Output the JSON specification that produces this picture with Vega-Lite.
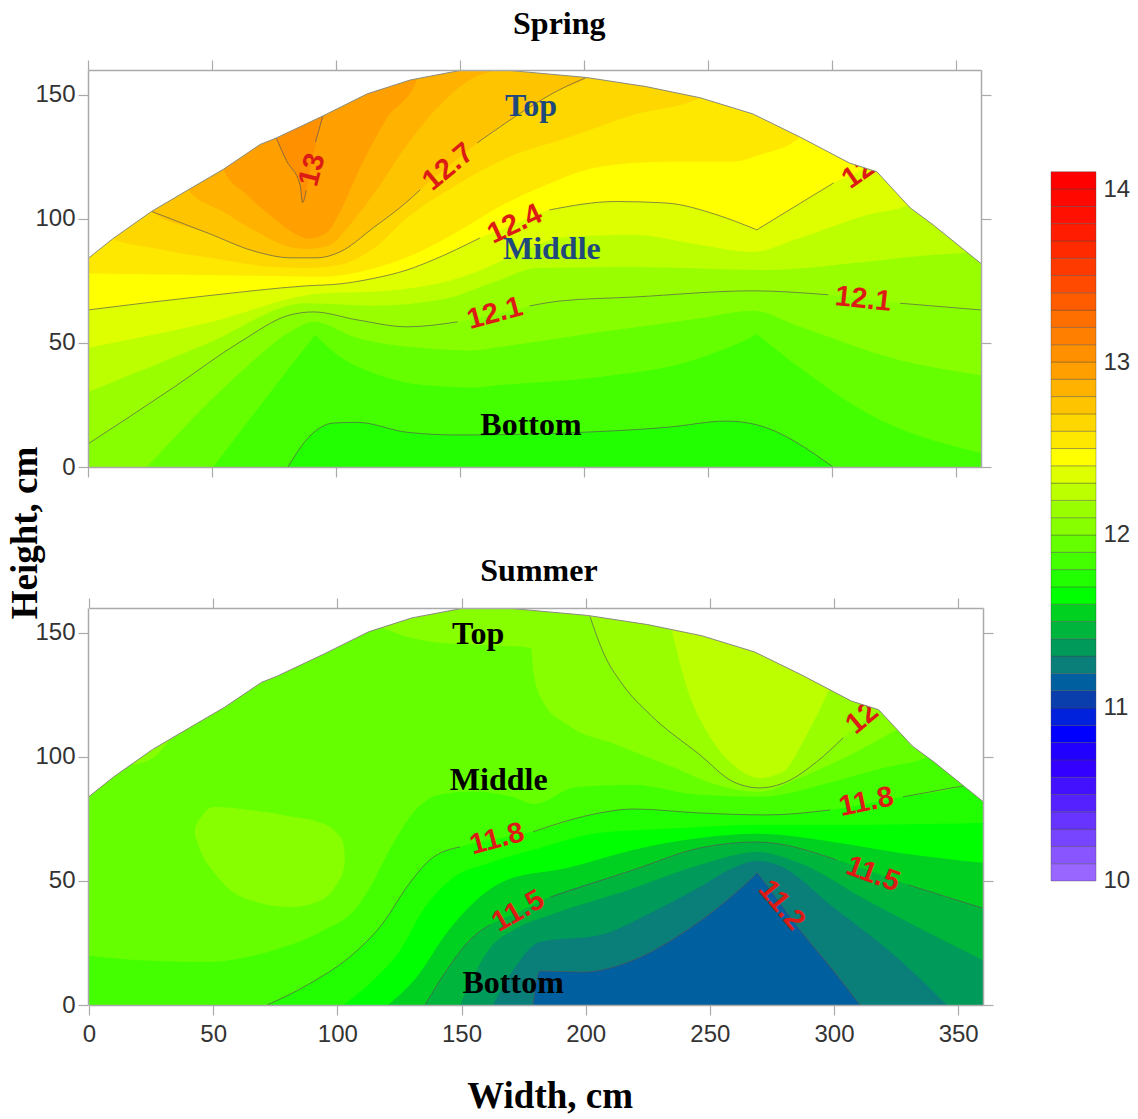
{"$schema":"https://vega.github.io/schema/vega-lite/v6.json","background":"white","padding":{"left":6,"top":7,"right":0,"bottom":0},"bounds":"flush","spacing":963,
"config":{"view":{"stroke":null},"axis":{"grid":false,"title":null,"domainColor":"#aaaaaa","domainWidth":1.5,"tickColor":"#aaaaaa","tickWidth":1.2,"tickSize":10,"labelColor":"#333333","labelFont":"Liberation Sans","labelFontSize":24,"labelOverlap":false,"labelFlush":false,"labelBound":false},"range":{"ordinal":["#9966ff","#8855ff","#7744ff","#6633ff","#5522ff","#4411ff","#3300ff","#2200ff","#0000ff","#0022dd","#0a3ead","#005f9e","#0a7f7a","#009a5a","#00b53c","#00d020","#00ff00","#22ff00","#44ff00","#66ff00","#88ff00","#99ff00","#bbff00","#ddff00","#ffff00","#ffe800","#ffd700","#ffc400","#ffb300","#ff9f00","#ff9000","#ff7f00","#ff6f00","#ff5c00","#ff4a00","#ff3a00","#ff2a00","#ff1c00","#ff1000","#ff0800","#ff0000"]},"text":{"font":"Liberation Sans","fontSize":29,"fontWeight":"bold","color":"#dc1c14","align":"center","baseline":"middle"}},
"datasets":{
"dome":[{"x":0,"y":84},{"x":10,"y":92},{"x":25.6,"y":103},{"x":40.4,"y":111.7},{"x":54.6,"y":120},{"x":69.4,"y":130},{"x":75.9,"y":132.6},{"x":94.7,"y":141.5},{"x":112.6,"y":150.4},{"x":130,"y":156},{"x":150,"y":159.8},{"x":170,"y":159.8},{"x":200.8,"y":157},{"x":225,"y":153.3},{"x":246.8,"y":148.8},{"x":268,"y":142.3},{"x":287,"y":133},{"x":307,"y":122.5},{"x":318,"y":119},{"x":331.5,"y":104.4},{"x":340.7,"y":97.6},{"x":360,"y":82}],
"topBands":[
{"level":12.9,"x":0,"y":160},{"level":12.9,"x":360,"y":160},
{"level":12.8,"x":0,"y":160},{"level":12.8,"x":54,"y":160},{"level":12.8,"x":54.6,"y":120},{"level":12.8,"x":64,"y":109.7},{"level":12.8,"x":74.7,"y":100.4},{"level":12.8,"x":82.7,"y":94.4},{"level":12.8,"x":88.8,"y":92},{"level":12.8,"x":96.3,"y":94.4},{"level":12.8,"x":101.6,"y":102.8},{"level":12.8,"x":109.7,"y":120.5},{"level":12.8,"x":120.6,"y":140.7},{"level":12.8,"x":132.6,"y":156},{"level":12.8,"x":133,"y":160},{"level":12.8,"x":360,"y":160},
{"level":12.7,"x":0,"y":160},{"level":12.7,"x":40,"y":160},{"level":12.7,"x":40.4,"y":111.7},{"level":12.7,"x":54.6,"y":102.8},{"level":12.7,"x":68,"y":94.8},{"level":12.7,"x":78.7,"y":89.5},{"level":12.7,"x":88,"y":87.9},{"level":12.7,"x":97.6,"y":89.5},{"level":12.7,"x":105.6,"y":97.6},{"level":12.7,"x":115,"y":109.7},{"level":12.7,"x":128.6,"y":129.8},{"level":12.7,"x":142,"y":146},{"level":12.7,"x":158,"y":158},{"level":12.7,"x":169,"y":160},{"level":12.7,"x":360,"y":160},
{"level":12.6,"x":0,"y":160},{"level":12.6,"x":25,"y":160},{"level":12.6,"x":25.6,"y":103},{"level":12.6,"x":48,"y":94.4},{"level":12.6,"x":68,"y":86.7},{"level":12.6,"x":81.5,"y":84.3},{"level":12.6,"x":92.3,"y":84.3},{"level":12.6,"x":101.6,"y":86.7},{"level":12.6,"x":115,"y":96.4},{"level":12.6,"x":128.6,"y":106.9},{"level":12.6,"x":133.9,"y":111.7},{"level":12.6,"x":145,"y":121},{"level":12.6,"x":156.9,"y":130.6},{"level":12.6,"x":166,"y":137},{"level":12.6,"x":179.6,"y":146},{"level":12.6,"x":190,"y":152},{"level":12.6,"x":201,"y":157},{"level":12.6,"x":201.5,"y":160},{"level":12.6,"x":360,"y":160},
{"level":12.5,"x":0,"y":160},{"level":12.5,"x":9.5,"y":160},{"level":12.5,"x":10,"y":92},{"level":12.5,"x":27.8,"y":88},{"level":12.5,"x":54.6,"y":83.4},{"level":12.5,"x":74.7,"y":80.6},{"level":12.5,"x":88,"y":80.2},{"level":12.5,"x":101.6,"y":81.5},{"level":12.5,"x":115,"y":88},{"level":12.5,"x":128.6,"y":100.4},{"level":12.5,"x":148.6,"y":113.7},{"level":12.5,"x":169,"y":124.6},{"level":12.5,"x":193,"y":132.6},{"level":12.5,"x":219.8,"y":141.9},{"level":12.5,"x":246.8,"y":148.8},{"level":12.5,"x":247.5,"y":160},{"level":12.5,"x":360,"y":160},
{"level":12.4,"x":0,"y":78},{"level":12.4,"x":48,"y":77.4},{"level":12.4,"x":94.8,"y":76.7},{"level":12.4,"x":115,"y":80},{"level":12.4,"x":128.6,"y":84.5},{"level":12.4,"x":148.8,"y":94.7},{"level":12.4,"x":166,"y":105},{"level":12.4,"x":182,"y":112.5},{"level":12.4,"x":206.5,"y":121},{"level":12.4,"x":233,"y":123},{"level":12.4,"x":260,"y":123},{"level":12.4,"x":271,"y":125.8},{"level":12.4,"x":287,"y":133},{"level":12.4,"x":288,"y":160},{"level":12.4,"x":360,"y":160},
{"level":12.3,"x":0,"y":63.3},{"level":12.3,"x":48,"y":69},{"level":12.3,"x":88,"y":73},{"level":12.3,"x":101.6,"y":73.8},{"level":12.3,"x":115,"y":76},{"level":12.3,"x":128.6,"y":79.4},{"level":12.3,"x":139,"y":83.4},{"level":12.3,"x":158,"y":92.3},{"level":12.3,"x":172,"y":98},{"level":12.3,"x":186,"y":103.6},{"level":12.3,"x":213,"y":107},{"level":12.3,"x":233,"y":106.4},{"level":12.3,"x":253.6,"y":101.6},{"level":12.3,"x":268.6,"y":96},{"level":12.3,"x":269.6,"y":95.6},{"level":12.3,"x":270.6,"y":96.2},{"level":12.3,"x":285,"y":105},{"level":12.3,"x":300.6,"y":114.5},{"level":12.3,"x":314,"y":122},{"level":12.3,"x":315,"y":160},{"level":12.3,"x":360,"y":160},
{"level":12.2,"x":0,"y":48},{"level":12.2,"x":48,"y":58},{"level":12.2,"x":94.8,"y":70},{"level":12.2,"x":115,"y":70.6},{"level":12.2,"x":155,"y":78},{"level":12.2,"x":169,"y":84},{"level":12.2,"x":193,"y":92.7},{"level":12.2,"x":220,"y":93.5},{"level":12.2,"x":246.8,"y":89.5},{"level":12.2,"x":268,"y":86.7},{"level":12.2,"x":287,"y":92.3},{"level":12.2,"x":314,"y":101.6},{"level":12.2,"x":330.6,"y":105.6},{"level":12.2,"x":331.5,"y":160},{"level":12.2,"x":360,"y":160},
{"level":12.1,"x":0,"y":30.2},{"level":12.1,"x":48,"y":49.7},{"level":12.1,"x":88,"y":66},{"level":12.1,"x":115,"y":65},{"level":12.1,"x":142,"y":67.4},{"level":12.1,"x":166,"y":75.4},{"level":12.1,"x":181,"y":80.2},{"level":12.1,"x":220,"y":80.6},{"level":12.1,"x":273.6,"y":79.4},{"level":12.1,"x":314,"y":82.7},{"level":12.1,"x":341,"y":85.5},{"level":12.1,"x":355,"y":86.5},{"level":12.1,"x":356,"y":160},{"level":12.1,"x":360,"y":160},
{"level":12,"x":0,"y":9.3},{"level":12,"x":34.4,"y":32},{"level":12,"x":61.3,"y":50.4},{"level":12,"x":81.5,"y":61.3},{"level":12,"x":90.9,"y":62.5},{"level":12,"x":108.5,"y":59.3},{"level":12,"x":128.6,"y":56.5},{"level":12,"x":149,"y":58.5},{"level":12,"x":164,"y":61.5},{"level":12,"x":178,"y":64.9},{"level":12,"x":190.3,"y":66.9},{"level":12,"x":220,"y":68.5},{"level":12,"x":268,"y":71},{"level":12,"x":298.4,"y":69.4},{"level":12,"x":327.4,"y":66},{"level":12,"x":360,"y":63.3},
{"level":11.9,"x":23.8,"y":0},{"level":11.9,"x":61.3,"y":38},{"level":11.9,"x":82.7,"y":55.2},{"level":11.9,"x":90.9,"y":58.5},{"level":11.9,"x":108.5,"y":52},{"level":11.9,"x":135,"y":48},{"level":11.9,"x":155,"y":47},{"level":11.9,"x":166,"y":48.4},{"level":11.9,"x":206.5,"y":54.4},{"level":11.9,"x":246.8,"y":60},{"level":11.9,"x":268,"y":63},{"level":11.9,"x":287,"y":56.5},{"level":11.9,"x":327.4,"y":43},{"level":11.9,"x":360,"y":37},
{"level":11.8,"x":50.4,"y":0},{"level":11.8,"x":90.4,"y":51.8},{"level":11.8,"x":91.5,"y":53.2},{"level":11.8,"x":92.6,"y":52.2},{"level":11.8,"x":101.6,"y":44.4},{"level":11.8,"x":115,"y":37.9},{"level":11.8,"x":135,"y":33},{"level":11.8,"x":155,"y":32},{"level":11.8,"x":166,"y":33},{"level":11.8,"x":206.5,"y":36.3},{"level":11.8,"x":240,"y":41.9},{"level":11.8,"x":257.6,"y":48},{"level":11.8,"x":268.6,"y":53},{"level":11.8,"x":269.6,"y":53.6},{"level":11.8,"x":270.6,"y":52.8},{"level":11.8,"x":287,"y":40},{"level":11.8,"x":314,"y":21.8},{"level":11.8,"x":360,"y":5.6},
{"level":11.7,"x":80.6,"y":0},{"level":11.7,"x":88,"y":10.9},{"level":11.7,"x":98.8,"y":17.7},{"level":11.7,"x":108.5,"y":18},{"level":11.7,"x":128.6,"y":14},{"level":11.7,"x":148.8,"y":12.9},{"level":11.7,"x":199.6,"y":14},{"level":11.7,"x":233.5,"y":16},{"level":11.7,"x":257.6,"y":18.5},{"level":11.7,"x":269.6,"y":17},{"level":11.7,"x":300.4,"y":0}],
"topPieces":[{"level":13,"piece":"wedge","x":75.5,"y":160,"y2":133},{"level":13,"piece":"wedge","x":80,"y":160,"y2":123.5},{"level":13,"piece":"wedge","x":85.5,"y":160,"y2":113.7},{"level":13,"piece":"wedge","x":86.5,"y":160,"y2":106.6},{"level":13,"piece":"wedge","x":88,"y":160,"y2":112},{"level":13,"piece":"wedge","x":90,"y":160,"y2":122},{"level":13,"piece":"wedge","x":92,"y":160,"y2":131},{"level":13,"piece":"wedge","x":94.7,"y":160,"y2":141.5}],
"topLines":[
{"line":"a","x":75.9,"y":132.6},{"line":"a","x":80,"y":123.5},{"line":"a","x":85.5,"y":113.7},{"line":"a","x":86.5,"y":106.6},{"line":"a","x":88,"y":111.5},
{"line":"b","x":91.7,"y":131},{"line":"b","x":94.7,"y":141.5},
{"line":"c","x":25.6,"y":103},{"line":"c","x":48,"y":94.4},{"line":"c","x":68,"y":86.7},{"line":"c","x":81.5,"y":84.3},{"line":"c","x":92.3,"y":84.3},{"line":"c","x":101.6,"y":86.7},{"line":"c","x":115,"y":96.4},{"line":"c","x":128.6,"y":106.9},{"line":"c","x":133.9,"y":111.7},
{"line":"d","x":156.9,"y":130.6},{"line":"d","x":166,"y":137},{"line":"d","x":179.6,"y":146},{"line":"d","x":190,"y":152},{"line":"d","x":201,"y":157},
{"line":"e","x":0,"y":63.3},{"line":"e","x":48,"y":69},{"line":"e","x":88,"y":73},{"line":"e","x":101.6,"y":73.8},{"line":"e","x":115,"y":76},{"line":"e","x":128.6,"y":79.4},{"line":"e","x":139,"y":83.4},{"line":"e","x":158,"y":92.3},
{"line":"f","x":186,"y":103.6},{"line":"f","x":213,"y":107},{"line":"f","x":233,"y":106.4},{"line":"f","x":253.6,"y":101.6},{"line":"f","x":268.6,"y":96},{"line":"f","x":269.6,"y":95.6},{"line":"f","x":270.6,"y":96.2},{"line":"f","x":285,"y":105},{"line":"f","x":300.6,"y":114.5},
{"line":"g","x":0,"y":9.3},{"line":"g","x":34.4,"y":32},{"line":"g","x":61.3,"y":50.4},{"line":"g","x":81.5,"y":61.3},{"line":"g","x":90.9,"y":62.5},{"line":"g","x":108.5,"y":59.3},{"line":"g","x":128.6,"y":56.5},{"line":"g","x":149,"y":58.5},
{"line":"h","x":178,"y":64.9},{"line":"h","x":190.3,"y":66.9},{"line":"h","x":220,"y":68.5},{"line":"h","x":268,"y":71},{"line":"h","x":298.4,"y":69.4},
{"line":"i","x":327.4,"y":66},{"line":"i","x":360,"y":63.3},
{"line":"j","x":80.6,"y":0},{"line":"j","x":88,"y":10.9},{"line":"j","x":98.8,"y":17.7},{"line":"j","x":108.5,"y":18},{"line":"j","x":128.6,"y":14},{"line":"j","x":148.8,"y":12.9},{"line":"j","x":199.6,"y":14},{"line":"j","x":233.5,"y":16},{"line":"j","x":257.6,"y":18.5},{"line":"j","x":269.6,"y":17},{"line":"j","x":300.4,"y":0}],
"botBase":[{"level":11.9,"x":0,"y":160},{"level":11.9,"x":360,"y":160}],
"botPieces":[
{"level":12,"piece":"lobe","x":118,"y":160,"y2":152},{"level":12,"piece":"lobe","x":128,"y":160,"y2":148.4},{"level":12,"piece":"lobe","x":141.4,"y":160,"y2":146},{"level":12,"piece":"lobe","x":160,"y":160,"y2":145},{"level":12,"piece":"lobe","x":178,"y":160,"y2":144},{"level":12,"piece":"lobe","x":179,"y":160,"y2":134},{"level":12,"piece":"lobe","x":183,"y":160,"y2":122},{"level":12,"piece":"lobe","x":192.5,"y":160,"y2":113},{"level":12,"piece":"lobe","x":212.6,"y":160,"y2":104.8},{"level":12,"piece":"lobe","x":232.8,"y":160,"y2":96.8},{"level":12,"piece":"lobe","x":253,"y":160,"y2":88.7},{"level":12,"piece":"lobe","x":270,"y":160,"y2":85.9},{"level":12,"piece":"lobe","x":286,"y":160,"y2":91.5},{"level":12,"piece":"lobe","x":306.5,"y":160,"y2":100.8},{"level":12,"piece":"lobe","x":325.4,"y":160,"y2":111},
{"level":12.1,"piece":"inner","x":201.8,"y":160,"y2":156.4},{"level":12.1,"piece":"inner","x":207,"y":160,"y2":142.3},{"level":12.1,"piece":"inner","x":215,"y":160,"y2":129},{"level":12.1,"piece":"inner","x":226,"y":160,"y2":117},{"level":12.1,"piece":"inner","x":246,"y":160,"y2":100.8},{"level":12.1,"piece":"inner","x":259.4,"y":160,"y2":90},{"level":12.1,"piece":"inner","x":270,"y":160,"y2":87.5},{"level":12.1,"piece":"inner","x":281,"y":160,"y2":90},{"level":12.1,"piece":"inner","x":293,"y":160,"y2":98},{"level":12.1,"piece":"inner","x":303.7,"y":160,"y2":107.7},{"level":12.1,"piece":"inner","x":318,"y":160,"y2":119},
{"level":12.2,"piece":"core","x":234.8,"y":160,"y2":150.4},{"level":12.2,"piece":"core","x":240.8,"y":160,"y2":127.8},{"level":12.2,"piece":"core","x":248.9,"y":160,"y2":110},{"level":12.2,"piece":"core","x":259.4,"y":160,"y2":96.8},{"level":12.2,"piece":"core","x":270,"y":160,"y2":91.5},{"level":12.2,"piece":"core","x":279.5,"y":160,"y2":94},{"level":12.2,"piece":"core","x":289,"y":160,"y2":108.9},{"level":12.2,"piece":"core","x":298.4,"y":160,"y2":127.8},
{"level":12,"piece":"island","x":42.7,"y":71.8,"y2":68},{"level":12,"piece":"island","x":46,"y":77,"y2":59.7},{"level":12,"piece":"island","x":50,"y":79.8,"y2":54},{"level":12,"piece":"island","x":55.5,"y":79.6,"y2":47.6},{"level":12,"piece":"island","x":67.6,"y":78.2,"y2":41.5},{"level":12,"piece":"island","x":74,"y":77.4,"y2":40},{"level":12,"piece":"island","x":81,"y":76,"y2":39.5},{"level":12,"piece":"island","x":91.8,"y":74,"y2":41.5},{"level":12,"piece":"island","x":100,"y":69,"y2":49.2},{"level":12,"piece":"island","x":102.4,"y":65,"y2":54},{"level":12,"piece":"island","x":103,"y":60,"y2":58.5},
{"level":12,"piece":"corner","x":17.7,"y":160,"y2":96.8},{"level":12,"piece":"corner","x":25.8,"y":160,"y2":99.6},{"level":12,"piece":"corner","x":31.8,"y":160,"y2":106}],
"botBands":[
{"level":11.8,"x":0,"y":19.8},{"level":11.8,"x":20.5,"y":18},{"level":11.8,"x":47.5,"y":17.3},{"level":11.8,"x":74,"y":22},{"level":11.8,"x":94.3,"y":30},{"level":11.8,"x":108,"y":39.5},{"level":11.8,"x":114,"y":49},{"level":11.8,"x":121,"y":62.5},{"level":11.8,"x":130.5,"y":77.4},{"level":11.8,"x":141,"y":84.7},{"level":11.8,"x":154.7,"y":86},{"level":11.8,"x":170,"y":84},{"level":11.8,"x":179,"y":81},{"level":11.8,"x":196.5,"y":87.9},{"level":11.8,"x":219,"y":88.7},{"level":11.8,"x":246,"y":84.7},{"level":11.8,"x":270,"y":83.9},{"level":11.8,"x":299.6,"y":90},{"level":11.8,"x":320,"y":95.6},{"level":11.8,"x":337.5,"y":100},{"level":11.8,"x":338,"y":160},{"level":11.8,"x":360,"y":160},
{"level":11.7,"x":71.7,"y":0},{"level":11.7,"x":87.8,"y":8},{"level":11.7,"x":108,"y":22},{"level":11.7,"x":118.4,"y":33},{"level":11.7,"x":128,"y":47.6},{"level":11.7,"x":137.3,"y":58.5},{"level":11.7,"x":149.4,"y":63.7},{"level":11.7,"x":164,"y":67},{"level":11.7,"x":178.8,"y":69.8},{"level":11.7,"x":205.8,"y":77.4},{"level":11.7,"x":219,"y":79},{"level":11.7,"x":246,"y":77.4},{"level":11.7,"x":273,"y":76.6},{"level":11.7,"x":298.4,"y":78.6},{"level":11.7,"x":327.8,"y":83.9},{"level":11.7,"x":352,"y":88.3},{"level":11.7,"x":353,"y":160},{"level":11.7,"x":360,"y":160},
{"level":11.6,"x":102.3,"y":0},{"level":11.6,"x":114.4,"y":10},{"level":11.6,"x":125.2,"y":22},{"level":11.6,"x":134.5,"y":38.3},{"level":11.6,"x":145.4,"y":50.4},{"level":11.6,"x":161.5,"y":57.3},{"level":11.6,"x":181.6,"y":63.3},{"level":11.6,"x":205.8,"y":69.4},{"level":11.6,"x":233,"y":71},{"level":11.6,"x":270,"y":72.6},{"level":11.6,"x":300,"y":72.6},{"level":11.6,"x":360,"y":73.4},
{"level":11.5,"x":120.4,"y":0},{"level":11.5,"x":132,"y":11.3},{"level":11.5,"x":144,"y":29},{"level":11.5,"x":154.6,"y":41},{"level":11.5,"x":168.3,"y":50.4},{"level":11.5,"x":192.5,"y":55.2},{"level":11.5,"x":219,"y":62.5},{"level":11.5,"x":246,"y":67.3},{"level":11.5,"x":269,"y":69},{"level":11.5,"x":299.6,"y":65.7},{"level":11.5,"x":326.6,"y":61.3},{"level":11.5,"x":360,"y":57.3},
{"level":11.4,"x":135.3,"y":0},{"level":11.4,"x":144,"y":14},{"level":11.4,"x":154.6,"y":27.4},{"level":11.4,"x":161.5,"y":32.3},{"level":11.4,"x":172,"y":37},{"level":11.4,"x":185.7,"y":43.5},{"level":11.4,"x":219,"y":54.4},{"level":11.4,"x":246,"y":63.3},{"level":11.4,"x":269,"y":65.7},{"level":11.4,"x":301,"y":58.5},{"level":11.4,"x":330,"y":48.4},{"level":11.4,"x":360,"y":39.1},
{"level":11.3,"x":149.4,"y":0},{"level":11.3,"x":154.6,"y":11.3},{"level":11.3,"x":160,"y":21},{"level":11.3,"x":172.4,"y":31},{"level":11.3,"x":185.7,"y":36.3},{"level":11.3,"x":219,"y":47},{"level":11.3,"x":246,"y":56.5},{"level":11.3,"x":269,"y":61.7},{"level":11.3,"x":286,"y":57.3},{"level":11.3,"x":313,"y":42.3},{"level":11.3,"x":360,"y":18},
{"level":11.2,"x":162.7,"y":0},{"level":11.2,"x":170.8,"y":14},{"level":11.2,"x":181.6,"y":25.4},{"level":11.2,"x":205.8,"y":28.2},{"level":11.2,"x":226,"y":37},{"level":11.2,"x":246,"y":47.6},{"level":11.2,"x":259.4,"y":55.2},{"level":11.2,"x":269,"y":58},{"level":11.2,"x":277,"y":56.5},{"level":11.2,"x":299.6,"y":39.5},{"level":11.2,"x":326.6,"y":18},{"level":11.2,"x":345.5,"y":0},
{"level":11.1,"x":178.8,"y":0},{"level":11.1,"x":181.6,"y":13.7},{"level":11.1,"x":199,"y":13.3},{"level":11.1,"x":219,"y":18},{"level":11.1,"x":239,"y":29},{"level":11.1,"x":257,"y":42.3},{"level":11.1,"x":268,"y":52.2},{"level":11.1,"x":269,"y":53.2},{"level":11.1,"x":270,"y":52},{"level":11.1,"x":286.3,"y":30.2},{"level":11.1,"x":299.6,"y":14},{"level":11.1,"x":310.5,"y":0}],
"botLines":[
{"line":"a","x":201.8,"y":156.4},{"line":"a","x":207,"y":142.3},{"line":"a","x":215,"y":129},{"line":"a","x":226,"y":117},{"line":"a","x":246,"y":100.8},{"line":"a","x":259.4,"y":90},{"line":"a","x":270,"y":87.5},{"line":"a","x":281,"y":90},{"line":"a","x":293,"y":98},{"line":"a","x":303.7,"y":107.7},
{"line":"b","x":71.7,"y":0},{"line":"b","x":87.8,"y":8},{"line":"b","x":108,"y":22},{"line":"b","x":118.4,"y":33},{"line":"b","x":128,"y":47.6},{"line":"b","x":137.3,"y":58.5},{"line":"b","x":149.4,"y":63.7},
{"line":"c","x":178.8,"y":69.8},{"line":"c","x":205.8,"y":77.4},{"line":"c","x":219,"y":79},{"line":"c","x":246,"y":77.4},{"line":"c","x":273,"y":76.6},{"line":"c","x":298.4,"y":78.6},
{"line":"d","x":327.8,"y":83.9},{"line":"d","x":352,"y":88.3},
{"line":"e","x":135.3,"y":0},{"line":"e","x":144,"y":14},{"line":"e","x":154.6,"y":27.4},{"line":"e","x":161.5,"y":32.3},
{"line":"f","x":185.7,"y":43.5},{"line":"f","x":219,"y":54.4},{"line":"f","x":246,"y":63.3},{"line":"f","x":269,"y":65.7},{"line":"f","x":301,"y":58.5},
{"line":"g","x":330,"y":48.4},{"line":"g","x":359.6,"y":39.1},
{"line":"h","x":178.8,"y":0},{"line":"h","x":181.6,"y":13.7},{"line":"h","x":199,"y":13.3},{"line":"h","x":219,"y":18},{"line":"h","x":239,"y":29},{"line":"h","x":257,"y":42.3},{"line":"h","x":268,"y":52.2},{"line":"h","x":269,"y":53.2},{"line":"h","x":270,"y":52},{"line":"h","x":286.3,"y":30.2},{"line":"h","x":299.6,"y":14},{"line":"h","x":310.5,"y":0}],
"cells":[{"level":10,"top":10.1},{"level":10.1,"top":10.2},{"level":10.2,"top":10.3},{"level":10.3,"top":10.4},{"level":10.4,"top":10.5},{"level":10.5,"top":10.6},{"level":10.6,"top":10.7},{"level":10.7,"top":10.8},{"level":10.8,"top":10.9},{"level":10.9,"top":11},{"level":11,"top":11.1},{"level":11.1,"top":11.2},{"level":11.2,"top":11.3},{"level":11.3,"top":11.4},{"level":11.4,"top":11.5},{"level":11.5,"top":11.6},{"level":11.6,"top":11.7},{"level":11.7,"top":11.8},{"level":11.8,"top":11.9},{"level":11.9,"top":12},{"level":12,"top":12.1},{"level":12.1,"top":12.2},{"level":12.2,"top":12.3},{"level":12.3,"top":12.4},{"level":12.4,"top":12.5},{"level":12.5,"top":12.6},{"level":12.6,"top":12.7},{"level":12.7,"top":12.8},{"level":12.8,"top":12.9},{"level":12.9,"top":13},{"level":13,"top":13.1},{"level":13.1,"top":13.2},{"level":13.2,"top":13.3},{"level":13.3,"top":13.4},{"level":13.4,"top":13.5},{"level":13.5,"top":13.6},{"level":13.6,"top":13.7},{"level":13.7,"top":13.8},{"level":13.8,"top":13.9},{"level":13.9,"top":14},{"level":14,"top":14.1}]
},
"hconcat":[
{"vconcat":[
{"width":895,"height":397,
"encoding":{"x":{"field":"x","type":"quantitative","axis":null,"scale":{"domain":[0,360],"range":[0,893]}},"y":{"field":"y","type":"quantitative","stack":null,"axis":null,"scale":{"domain":[0,160]}}},
"resolve":{"axis":{"x":"independent","y":"independent"}},
"layer":[
{"data":{"name":"topBands"},"mark":{"type":"area","interpolate":"monotone","clip":true},"encoding":{
"x":{"field":"x","type":"quantitative","scale":{"domain":[0,360],"range":[0,893]},"axis":{"orient":"bottom","values":[0,50,100,150,200,250,300,350],"labels":false,"domain":true,"zindex":1}},
"y":{"field":"y","type":"quantitative","stack":null,"scale":{"domain":[0,160]},"axis":{"orient":"left","values":[0,50,100,150],"labelPadding":3,"zindex":1}},
"color":{"field":"level","type":"ordinal","legend":null}}},
{"data":{"name":"topPieces"},"mark":{"type":"area","interpolate":"monotone","clip":true},"encoding":{"y2":{"field":"y2"},"color":{"field":"level","type":"ordinal","legend":null},"detail":{"field":"piece"}}},
{"data":{"name":"topLines"},"mark":{"type":"line","interpolate":"monotone","stroke":"#555555","strokeWidth":0.8,"strokeOpacity":0.85},"encoding":{"detail":{"field":"line"}}},
{"data":{"values":[{"label":"13","x":90.3,"y":119.8}]},"mark":{"type":"text","angle":285},"encoding":{"text":{"field":"label"}}},
{"data":{"values":[{"label":"12.7","x":145.2,"y":121}]},"mark":{"type":"text","angle":320},"encoding":{"text":{"field":"label"}}},
{"data":{"values":[{"label":"12.4","x":172,"y":98}]},"mark":{"type":"text","angle":335},"encoding":{"text":{"field":"label"}}},
{"data":{"values":[{"label":"12","x":310.5,"y":118.5}]},"mark":{"type":"text","angle":325},"encoding":{"text":{"field":"label"}}},
{"data":{"values":[{"label":"12.1","x":164,"y":62}]},"mark":{"type":"text","angle":345},"encoding":{"text":{"field":"label"}}},
{"data":{"values":[{"label":"12.1","x":312.5,"y":67.7}]},"mark":{"type":"text","angle":6},"encoding":{"text":{"field":"label"}}},
{"data":{"name":"dome"},"mark":{"type":"area","fill":"white","clip":true},"encoding":{"y2":{"datum":160}}},
{"data":{"name":"dome"},"mark":{"type":"line","stroke":"#8a8a7a","strokeWidth":1},"encoding":{
"x":{"field":"x","type":"quantitative","scale":{"domain":[0,360],"range":[0,893]},"axis":{"orient":"top","values":[0,50,100,150,200,250,300,350],"labels":false,"zindex":1}},
"y":{"field":"y","type":"quantitative","stack":null,"scale":{"domain":[0,160]},"axis":{"orient":"right","offset":-2,"values":[0,50,100,150],"labels":false,"zindex":1}}}},
{"data":{"values":[{"label":"Spring","x":190,"y":178.6},{"label":"Bottom","x":178.6,"y":16.9}]},"mark":{"type":"text","font":"Liberation Serif","fontWeight":"bold","fontSize":32,"color":"#000000"},"encoding":{"text":{"field":"label"}}},
{"data":{"values":[{"label":"Top","x":178.6,"y":145.6},{"label":"Middle","x":187,"y":87.9}]},"mark":{"type":"text","font":"Liberation Serif","fontWeight":"bold","fontSize":32,"color":"#1f497d"},"encoding":{"text":{"field":"label"}}},
{"data":{"values":[{"label":"Height, cm","x":-25,"y":-26.6}]},"mark":{"type":"text","font":"Liberation Serif","fontWeight":"bold","fontSize":37,"color":"#000000","angle":270},"encoding":{"text":{"field":"label"}}}
]},
{"width":895,"height":397,
"encoding":{"x":{"field":"x","type":"quantitative","axis":null,"scale":{"domain":[0,360],"range":[1,895]}},"y":{"field":"y","type":"quantitative","stack":null,"axis":null,"scale":{"domain":[0,160]}}},
"resolve":{"axis":{"x":"independent","y":"independent"}},
"layer":[
{"data":{"name":"botBase"},"mark":{"type":"area","interpolate":"monotone","clip":true},"encoding":{
"x":{"field":"x","type":"quantitative","scale":{"domain":[0,360],"range":[1,895]},"axis":{"orient":"bottom","values":[0,50,100,150,200,250,300,350],"labelPadding":7,"zindex":1}},
"y":{"field":"y","type":"quantitative","stack":null,"scale":{"domain":[0,160]},"axis":{"orient":"left","values":[0,50,100,150],"labelPadding":3,"zindex":1}},
"color":{"field":"level","type":"ordinal","legend":null}}},
{"data":{"name":"botPieces"},"mark":{"type":"area","interpolate":"monotone","clip":true},"encoding":{"y2":{"field":"y2"},"color":{"field":"level","type":"ordinal","legend":null},"detail":{"field":"piece"}}},
{"data":{"name":"botBands"},"mark":{"type":"area","interpolate":"monotone","clip":true},"encoding":{"color":{"field":"level","type":"ordinal","legend":null}}},
{"data":{"name":"botLines"},"mark":{"type":"line","interpolate":"monotone","stroke":"#555555","strokeWidth":0.8,"strokeOpacity":0.85},"encoding":{"detail":{"field":"line"}}},
{"data":{"values":[{"label":"12","x":311.3,"y":115.7}]},"mark":{"type":"text","angle":320},"encoding":{"text":{"field":"label"}}},
{"data":{"values":[{"label":"11.8","x":164.3,"y":67}]},"mark":{"type":"text","angle":345},"encoding":{"text":{"field":"label"}}},
{"data":{"values":[{"label":"11.8","x":313,"y":81.9}]},"mark":{"type":"text","angle":348},"encoding":{"text":{"field":"label"}}},
{"data":{"values":[{"label":"11.5","x":172.8,"y":37.9}]},"mark":{"type":"text","angle":330},"encoding":{"text":{"field":"label"}}},
{"data":{"values":[{"label":"11.5","x":315.7,"y":52.8}]},"mark":{"type":"text","angle":20},"encoding":{"text":{"field":"label"}}},
{"data":{"values":[{"label":"11.2","x":279,"y":40.3}]},"mark":{"type":"text","angle":50},"encoding":{"text":{"field":"label"}}},
{"data":{"name":"dome"},"mark":{"type":"area","fill":"white","clip":true},"encoding":{"y2":{"datum":160}}},
{"data":{"name":"dome"},"mark":{"type":"line","stroke":"#8a8a7a","strokeWidth":1},"encoding":{
"x":{"field":"x","type":"quantitative","scale":{"domain":[0,360],"range":[1,895]},"axis":{"orient":"top","values":[0,50,100,150,200,250,300,350],"labels":false,"zindex":1}},
"y":{"field":"y","type":"quantitative","stack":null,"scale":{"domain":[0,160]},"axis":{"orient":"right","values":[0,50,100,150],"labels":false,"zindex":1}}}},
{"data":{"values":[{"label":"Summer","x":181.2,"y":175},{"label":"Top","x":156.7,"y":149.6},{"label":"Middle","x":165,"y":90.7},{"label":"Bottom","x":170.8,"y":8.9}]},"mark":{"type":"text","font":"Liberation Serif","fontWeight":"bold","fontSize":32,"color":"#000000"},"encoding":{"text":{"field":"label"}}},
{"data":{"values":[{"label":"Width, cm","x":185.7,"y":-37.1}]},"mark":{"type":"text","font":"Liberation Serif","fontWeight":"bold","fontSize":37,"color":"#000000"},"encoding":{"text":{"field":"label"}}}
]}
],"spacing":141,"bounds":"flush"},
{"width":45,"height":935,"data":{"name":"cells"},"mark":{"type":"rect","stroke":"#444444","strokeWidth":0.6,"strokeOpacity":0.6},"encoding":{
"y":{"field":"level","type":"quantitative","scale":{"domain":[9.283,14.688]},"axis":{"orient":"right","values":[10,11,12,13,14],"ticks":false,"domain":false,"labelPadding":7,"labelColor":"#333333"}},
"y2":{"field":"top"},
"color":{"field":"level","type":"ordinal","legend":null}}}
]}
